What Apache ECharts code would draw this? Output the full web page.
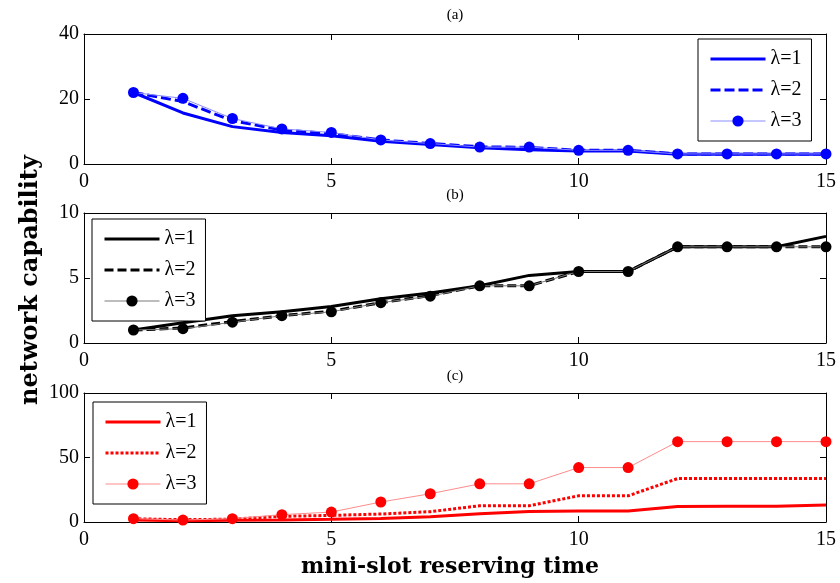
<!DOCTYPE html>
<html>
<head>
<meta charset="utf-8">
<title>network capability vs mini-slot reserving time</title>
<script src="https://cdn.jsdelivr.net/npm/echarts@6/dist/echarts.min.js"></script>
<style>
  html, body { margin: 0; padding: 0; background: #ffffff; }
  #chart { width: 840px; height: 583px; }
</style>
</head>
<body>
<div id="chart"></div>
<script>
// ---- data -------------------------------------------------------------
const slots = [1, 2, 3, 4, 5, 6, 7, 8, 9, 10, 11, 12, 13, 14, 15];
const seriesNames = ['λ=1', 'λ=2', 'λ=3'];
const panelTitles = ['(a)', '(b)', '(c)'];

// tick values of each axis
const xTicks  = [0, 5, 10, 15];
const yTicksA = [0, 20, 40];
const yTicksB = [0, 5, 10];
const yTicksC = [0, 50, 100];

// panel (a)
const aLambda1 = [22, 15.7, 11.5, 9.7, 8.7, 7.0, 6.0, 5.0, 4.4, 4.0, 4.0, 3.0, 3.0, 3.0, 3.0];
const aLambda2 = [22, 19.2, 13.3, 10.5, 9.3, 7.4, 6.3, 5.3, 5.1, 4.2, 4.2, 3.1, 3.1, 3.1, 3.1];
const aLambda3 = [22, 20.2, 14.0, 10.8, 9.7, 7.4, 6.3, 5.2, 5.2, 4.2, 4.2, 3.1, 3.1, 3.1, 3.1];

// panel (b)
const bLambda1 = [1.0, 1.55, 2.1, 2.4, 2.8, 3.4, 3.85, 4.4, 5.2, 5.5, 5.5, 7.4, 7.4, 7.4, 8.2];
const bLambda2 = [1.0, 1.15, 1.65, 2.1, 2.45, 3.1, 3.65, 4.4, 4.4, 5.5, 5.5, 7.4, 7.4, 7.4, 7.4];
const bLambda3 = [1.0, 1.1, 1.6, 2.1, 2.4, 3.1, 3.6, 4.4, 4.4, 5.5, 5.5, 7.4, 7.4, 7.4, 7.4];

// panel (c)
const cLambda1 = [1.5, 1.0, 1.3, 1.5, 2.1, 2.8, 4.1, 6.4, 8.2, 8.5, 8.5, 12.1, 12.2, 12.2, 13.1];
const cLambda2 = [2.5, 1.8, 2.2, 4.4, 5.1, 6.2, 8.0, 12.6, 12.6, 20.3, 20.3, 33.7, 33.7, 33.7, 33.7];
const cLambda3 = [2.6, 1.5, 2.6, 5.7, 7.7, 15.5, 21.9, 29.6, 29.6, 42.2, 42.2, 62.3, 62.3, 62.3, 62.3];

// ---- layout & styling -------------------------------------------------
const serif = 'Liberation Serif, DejaVu Serif, serif';
const boldSerif = 'DejaVu Serif, serif';

const panels = [
  { values: [aLambda1, aLambda2, aLambda3], yTicks: yTicksA, top: 34, height: 130,
    strong: '#0000ff', faint: '#8c8cff', dash: [10, 4], legend: { left: 698, top: 39 }, titleY: 15 },
  { values: [bLambda1, bLambda2, bLambda3], yTicks: yTicksB, top: 213, height: 130,
    strong: '#000000', faint: '#7a7a7a', dash: [9, 4], legend: { left: 92, top: 219 }, titleY: 195 },
  { values: [cLambda1, cLambda2, cLambda3], yTicks: yTicksC, top: 393, height: 129,
    strong: '#ff0000', faint: '#ff8c8c', dash: [3, 2], legend: { left: 93, top: 402 }, titleY: 376 }
];

const plotLeft = 84;
const plotWidth = 742;

const grids = [], xAxes = [], yAxes = [], series = [], legends = [], graphics = [];

const tickStyle = { show: true, inside: true, length: 6, lineStyle: { color: '#000', width: 1 } };
const lineStyleAxis = { show: true, onZero: false, lineStyle: { color: '#000', width: 1 } };
const labelStyle = { color: '#000', fontFamily: serif, fontSize: 20 };

panels.forEach((p, k) => {
  grids.push({ left: plotLeft, width: plotWidth, top: p.top, height: p.height, containLabel: false });

  const xMin = xTicks[0], xMax = xTicks[xTicks.length - 1], xStep = xTicks[1] - xTicks[0];
  const yMin = p.yTicks[0], yMax = p.yTicks[p.yTicks.length - 1], yStep = p.yTicks[1] - p.yTicks[0];

  // bottom x axis with labels, top x axis with ticks only
  xAxes.push({ type: 'value', gridIndex: k, position: 'bottom', min: xMin, max: xMax, interval: xStep,
    axisLine: lineStyleAxis, axisTick: tickStyle, splitLine: { show: false },
    axisLabel: Object.assign({ margin: 8 }, labelStyle) });
  xAxes.push({ type: 'value', gridIndex: k, position: 'top', min: xMin, max: xMax, interval: xStep,
    axisLine: lineStyleAxis, axisTick: tickStyle, splitLine: { show: false }, axisLabel: { show: false } });

  // left y axis with labels, right y axis with ticks only
  yAxes.push({ type: 'value', gridIndex: k, position: 'left', min: yMin, max: yMax, interval: yStep,
    axisLine: lineStyleAxis, axisTick: tickStyle, splitLine: { show: false },
    axisLabel: Object.assign({ margin: 5 }, labelStyle) });
  yAxes.push({ type: 'value', gridIndex: k, position: 'right', min: yMin, max: yMax, interval: yStep,
    axisLine: lineStyleAxis, axisTick: tickStyle, splitLine: { show: false }, axisLabel: { show: false } });

  const lineStyles = [
    { color: p.strong, width: 3, type: 'solid' },
    { color: p.strong, width: 3, type: p.dash, cap: 'butt' },
    { color: p.faint, width: 1, type: 'solid' }
  ];

  p.values.forEach((vals, j) => {
    const withMarker = j === 2;
    series.push({
      name: seriesNames[j],
      type: 'line',
      xAxisIndex: 2 * k,
      yAxisIndex: 2 * k,
      data: slots.map((x, i) => [x, vals[i]]),
      symbol: withMarker ? 'circle' : 'none',
      symbolSize: 11,
      showAllSymbol: true,
      itemStyle: { color: p.strong },
      lineStyle: lineStyles[j],
      z: 2 + j,
      silent: true,
      emphasis: { disabled: true }
    });
  });

  legends.push({
    orient: 'vertical',
    left: p.legend.left,
    top: p.legend.top,
    itemWidth: 55,
    itemHeight: 14,
    itemGap: 11,
    padding: [10, 10, 10, 11],
    backgroundColor: '#fff',
    borderColor: '#000',
    borderWidth: 1,
    borderRadius: 0,
    selectedMode: false,
    textStyle: { color: '#000', fontFamily: serif, fontSize: 20 },
    data: seriesNames.map((name, j) => ({
      name: name,
      itemStyle: { color: p.strong, opacity: j === 2 ? 1 : 0 },
      lineStyle: lineStyles[j]
    }))
  });

  graphics.push({
    type: 'text', x: plotLeft + plotWidth / 2, y: p.titleY, silent: true,
    style: { text: panelTitles[k], font: '15px ' + serif, fill: '#000',
             textAlign: 'center', textVerticalAlign: 'middle' }
  });
});

// shared axis titles
graphics.push({
  type: 'text', x: 450, y: 567, silent: true,
  style: { text: 'mini-slot reserving time', font: 'bold 22px ' + boldSerif, fill: '#000',
           textAlign: 'center', textVerticalAlign: 'middle' }
});
graphics.push({
  type: 'text', x: 31, y: 280, rotation: Math.PI / 2, silent: true,
  style: { text: 'network capability', font: 'bold 24px ' + boldSerif, fill: '#000',
           textAlign: 'center', textVerticalAlign: 'middle' }
});

const chart = echarts.init(document.getElementById('chart'));
chart.setOption({
  backgroundColor: '#ffffff',
  animation: false,
  grid: grids,
  xAxis: xAxes,
  yAxis: yAxes,
  legend: legends,
  series: series,
  graphic: graphics
});
</script>
</body>
</html>
